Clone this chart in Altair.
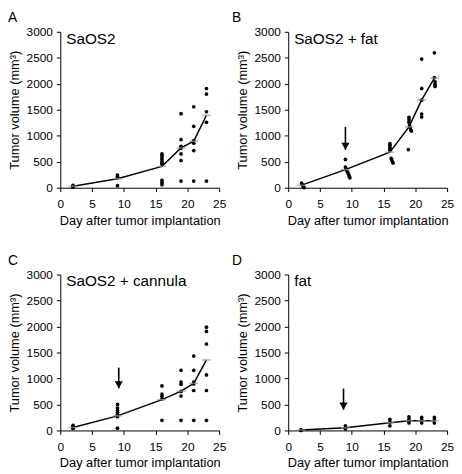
import altair as alt
import pandas as pd

# ---------------- data ----------------
MEAN_DAYS = [2, 9, 16, 19, 21, 23]
X_TICKS = [0, 5, 10, 15, 20, 25]
Y_TICKS = [0, 500, 1000, 1500, 2000, 2500, 3000]

A_day = [2, 2, 2, 2, 9, 9, 9, 9, 16, 16, 16, 16, 16, 16, 16, 16, 16,
         19, 19, 19, 19, 19, 19, 19, 21, 21, 21, 21, 21, 21, 23, 23, 23, 23, 23]
A_vol = [45, 30, 20, 10, 243, 217, 192, 40, 651, 619, 575, 536, 492, 453, 140, 96, 57,
         1424, 926, 798, 760, 651, 524, 128, 1558, 1181, 907, 856, 715, 128,
         1909, 1801, 1462, 1258, 128]
A_mean = [30, 172, 410, 765, 895, 1395]

B_day = [2.1, 2.2, 2.3, 2.4, 2.5, 9.0, 9.0, 9.1, 9.2, 9.35, 9.5, 9.6, 9.7,
         16.0, 16.0, 16.0, 16.0, 16.0, 16.2, 16.3, 16.4, 16.5,
         19.0, 19.0, 19.0, 19.1, 19.2, 19.3, 19.4, 18.9,
         21, 21, 21, 21, 21, 23, 23, 23.1, 23.1, 23.1]
B_vol = [90, 60, 40, 15, 0, 544, 399, 367, 329, 297, 259, 222, 190,
         848, 816, 785, 753, 722, 563, 532, 500, 475,
         1354, 1310, 1259, 1196, 1152, 1108, 1089, 734,
         2475, 1911, 1684, 1418, 1361, 2595, 2120, 2038, 1987, 1949]
B_mean = [45, 348, 685, 1171, 1690, 2110]

C_day = [2, 2, 2, 2, 9, 9, 9, 9, 9, 9, 9, 16, 16, 16, 16, 16,
         19, 19, 19, 19, 19, 19, 21, 21, 21, 21, 21, 21, 23, 23, 23, 23, 23, 23]
C_vol = [100, 75, 44, 38, 500, 431, 388, 350, 313, 263, 44, 856, 700, 656, 606, 194,
         1156, 931, 888, 750, 663, 194, 1431, 1156, 931, 894, 769, 194,
         1988, 1906, 1663, 1069, 769, 194]
C_mean = [56, 281, 594, 756, 906, 1356]

D_day = [2, 2, 2, 9, 9, 9, 16, 16, 16, 19, 19, 19, 19, 21, 21, 21, 23, 23, 23]
D_vol = [10, 5, 0, 88, 50, 30, 212, 163, 88, 262, 212, 181, 144, 250, 206, 144, 250, 206, 144]
D_mean = [8, 50, 150, 188, 188, 188]

# arrows: day, top value, tip value
B_arrow = [9.0, 1170, 730]
C_arrow = [9.2, 1210, 810]
D_arrow = [8.7, 806, 400]

FONT = "Liberation Sans"
W, H = 161, 158


def panel(letter, label, days, vols, means, arrow, letter_dx):
    pts = pd.DataFrame({"day": days, "vol": vols})
    mn = pd.DataFrame({"day": MEAN_DAYS, "vol": means})
    xs = alt.Scale(domain=[0, 25], nice=False)
    ys = alt.Scale(domain=[0, 3000], nice=False)
    xax = alt.Axis(values=X_TICKS, title="Day after tumor implantation", labelFlush=False,
                   format="d", labelPadding=7, titlePadding=5)
    yax = alt.Axis(values=Y_TICKS, title="Tumor volume (mm³)", format="d",
                   labelPadding=4, titlePadding=5)
    X = alt.X("day:Q", scale=xs, axis=xax)
    Y = alt.Y("vol:Q", scale=ys, axis=yax)

    points = alt.Chart(pts).mark_circle(size=14, color="black", opacity=1).encode(x=X, y=Y)
    line = alt.Chart(mn).mark_line(color="black", strokeWidth=1.5).encode(x=X, y=Y)
    ticks = alt.Chart(mn).mark_tick(orient="horizontal", color="#9a9a9a", size=9,
                                    thickness=1.5).encode(x=X, y=Y)
    title = alt.Chart(pd.DataFrame({"t": [label]})).mark_text(
        align="left", baseline="alphabetic", fontSize=15.5, font=FONT, color="black"
    ).encode(x=alt.value(6), y=alt.value(12), text="t:N")
    let = alt.Chart(pd.DataFrame({"t": [letter]})).mark_text(
        align="left", baseline="alphabetic", fontSize=14, font=FONT, color="black"
    ).encode(x=alt.value(letter_dx), y=alt.value(-10), text="t:N")
    layers = [points, line, ticks, title, let]
    if arrow is not None:
        ad = pd.DataFrame({"day": [arrow[0]], "top": [arrow[1]], "tip": [arrow[2]]})
        shaft = alt.Chart(ad).mark_rule(color="black", strokeWidth=1.6).encode(
            x=alt.X("day:Q", scale=xs, axis=xax), y=alt.Y("top:Q", scale=ys, axis=yax), y2="tip:Q"
        )
        head = alt.Chart(ad).mark_point(shape="triangle-down", filled=True, color="black",
                                        size=70, opacity=1, yOffset=-3.6).encode(
            x=alt.X("day:Q", scale=xs, axis=xax), y=alt.Y("tip:Q", scale=ys, axis=yax)
        )
        layers += [shaft, head]
    return alt.layer(*layers).properties(width=W, height=H)


chart = alt.concat(
    panel("A", "SaOS2", A_day, A_vol, A_mean, None, -53),
    panel("B", "SaOS2 + fat", B_day, B_vol, B_mean, B_arrow, -57),
    panel("C", "SaOS2 + cannula", C_day, C_vol, C_mean, C_arrow, -53),
    panel("D", "fat", D_day, D_vol, D_mean, D_arrow, -57),
    columns=2,
    spacing=alt.RowColnumber(row=88, column=70),
    bounds="flush",
).properties(
    padding={"left": 0, "top": 0, "right": 0, "bottom": 0}
).configure(
    background="white", font=FONT
).configure_view(
    strokeWidth=0
).configure_axis(
    grid=False, domainColor="black", tickColor="black", labelColor="black", titleColor="black",
    labelFont=FONT, titleFont=FONT, labelFontSize=12, titleFontSize=13, titleFontWeight="normal",
    tickSize=4, domainWidth=1, tickWidth=1
)

chart.save("out.html", embed_options={"renderer": "svg", "actions": False})
